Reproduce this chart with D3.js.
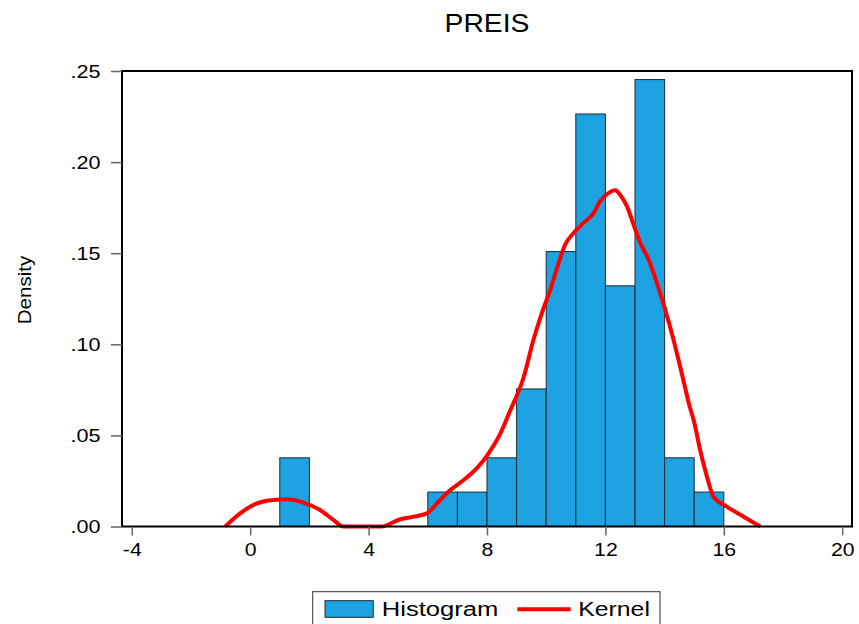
<!DOCTYPE html>
<html>
<head>
<meta charset="utf-8">
<script src="https://cdn.jsdelivr.net/npm/d3@7"></script>
<style>
  html, body { margin: 0; padding: 0; background: #fff; }
  svg { display: block; font-family: "Liberation Sans", Arial, sans-serif; }
</style>
</head>
<body>
<svg id="chart" width="859" height="624"></svg>
<script>
// Histogram of PREIS: bin edges (width 1) and density per bin
const binStarts = [1, 6, 7, 8, 9, 10, 11, 12, 13, 14, 15];
const binWidth = 1;
const binDensity = [0.0377, 0.0189, 0.0189, 0.0377, 0.0755, 0.1509, 0.2264, 0.1321, 0.2453, 0.0377, 0.0189];

// Kernel density estimate
const kernelX = [-0.84, -0.34, 0.23, 0.79, 1.24, 1.80, 2.36, 2.81, 3.15, 4.45, 5.07, 5.52, 5.97, 6.36, 6.76,
  7.21, 7.66, 8.05, 8.45, 8.78, 9.23, 9.57, 9.85, 10.14, 10.42, 10.64, 10.92, 11.26, 11.60, 11.82, 12.10,
  12.33, 12.50, 12.73, 12.95, 13.18, 13.46, 13.74, 14.02, 14.30, 14.58, 14.86, 14.98, 15.20, 15.43, 15.65,
  16.10, 16.67, 17.23];
const kernelY = [0, 0.0072, 0.0127, 0.0146, 0.0149, 0.0131, 0.0091, 0.0036, 0, 0, 0.0040, 0.0054, 0.0072,
  0.0136, 0.0200, 0.0255, 0.0320, 0.0400, 0.0510, 0.0635, 0.0815, 0.1025, 0.1170, 0.1300, 0.1446, 0.1547,
  0.1610, 0.1666, 0.1720, 0.1785, 0.1830, 0.1845, 0.1820, 0.1757, 0.1657, 0.1556, 0.1464, 0.1336, 0.1190,
  0.1025, 0.0840, 0.0650, 0.0585, 0.0420, 0.0274, 0.0164, 0.0109, 0.0054, 0];

// Axis ticks
const xTicks = [-4, 0, 4, 8, 12, 16, 20];
const xTickLabels = ["-4", "0", "4", "8", "12", "16", "20"];
const yTicks = [0, 0.05, 0.10, 0.15, 0.20, 0.25];
const yTickLabels = [".00", ".05", ".10", ".15", ".20", ".25"];

const title = "PREIS";
const yTitle = "Density";
const legendItems = ["Histogram", "Kernel"];

const barColor = "#1ea3e2";
const kernelColor = "#ff0000";

const svg = d3.select("#chart");
const plot = { left: 122, right: 852, top: 71, bottom: 526.5 };

const x = d3.scaleLinear().domain([-4.33, 20.33]).range([plot.left, plot.right]);
const y = d3.scaleLinear().domain([0, 0.25]).range([plot.bottom, plot.top]);

// Bars
svg.append("g")
  .selectAll("rect")
  .data(binStarts.map((s, i) => ({ x0: s, x1: s + binWidth, d: binDensity[i] })))
  .join("rect")
  .attr("x", d => x(d.x0))
  .attr("y", d => y(d.d))
  .attr("width", d => x(d.x1) - x(d.x0))
  .attr("height", d => y(0) - y(d.d))
  .attr("fill", barColor)
  .attr("stroke", "#1c2a33")
  .attr("stroke-width", 1);

// Kernel curve
const line = d3.line()
  .x(d => x(d[0]))
  .y(d => y(d[1]))
  .curve(d3.curveMonotoneX);

svg.append("path")
  .datum(kernelX.map((v, i) => [v, kernelY[i]]))
  .attr("d", line)
  .attr("fill", "none")
  .attr("stroke", kernelColor)
  .attr("stroke-width", 4)
  .attr("stroke-linejoin", "round");

// Frame
svg.append("rect")
  .attr("x", plot.left)
  .attr("y", plot.top)
  .attr("width", plot.right - plot.left)
  .attr("height", plot.bottom - plot.top)
  .attr("fill", "none")
  .attr("stroke", "#000")
  .attr("stroke-width", 2);

// X axis
const xAxis = svg.append("g")
  .attr("transform", `translate(0,${plot.bottom})`)
  .call(d3.axisBottom(x).tickValues(xTicks).tickSize(9).tickFormat((d, i) => xTickLabels[i]));
xAxis.select(".domain").remove();
xAxis.selectAll(".tick line").attr("stroke", "#666").attr("stroke-width", 1.5);
xAxis.selectAll(".tick text")
  .attr("y", 29.8)
  .attr("dy", 0)
  .attr("fill", "#000")
  .style("font-size", "18px")
  .attr("transform", "scale(1.18,1)");

// Y axis
const yAxis = svg.append("g")
  .attr("transform", `translate(${plot.left},0)`)
  .call(d3.axisLeft(y).tickValues(yTicks).tickSize(11).tickFormat((d, i) => yTickLabels[i]));
yAxis.select(".domain").remove();
yAxis.selectAll(".tick line").attr("stroke", "#666").attr("stroke-width", 1.5);
yAxis.selectAll(".tick text")
  .attr("x", -18)
  .attr("dy", "0.36em")
  .attr("fill", "#000")
  .style("font-size", "18px")
  .attr("transform", "scale(1.2,1)");

// Title
svg.append("text")
  .attr("transform", `translate(${(plot.left + plot.right) / 2},31.5) scale(1.09,1)`)
  .attr("text-anchor", "middle")
  .style("font-size", "26px")
  .text(title);

// Y axis title
svg.append("text")
  .attr("transform", "translate(31,290) rotate(-90) scale(1.08,1)")
  .attr("text-anchor", "middle")
  .style("font-size", "19px")
  .text(yTitle);

// Legend
const legend = svg.append("g");
legend.append("rect")
  .attr("x", 312.7).attr("y", 591.7)
  .attr("width", 347.3).attr("height", 45)
  .attr("fill", "#fff").attr("stroke", "#333").attr("stroke-width", 1);
legend.append("rect")
  .attr("x", 325).attr("y", 600.7)
  .attr("width", 48.3).attr("height", 16.6)
  .attr("fill", barColor).attr("stroke", "#1c2a33").attr("stroke-width", 1);
legend.append("text")
  .attr("transform", "translate(381.7,615.5) scale(1.22,1)")
  .style("font-size", "21px")
  .text(legendItems[0]);
legend.append("line")
  .attr("x1", 517.3).attr("x2", 570.7)
  .attr("y1", 609.3).attr("y2", 609.3)
  .attr("stroke", kernelColor).attr("stroke-width", 4);
legend.append("text")
  .attr("transform", "translate(578.3,615.5) scale(1.18,1)")
  .style("font-size", "21px")
  .text(legendItems[1]);
</script>
</body>
</html>
